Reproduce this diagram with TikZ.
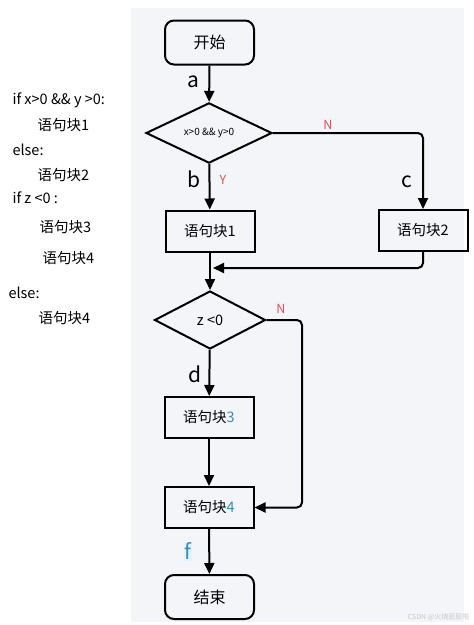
\documentclass[tikz,border=0pt]{standalone}
\usepackage{fontspec}
\setmainfont{Noto Sans CJK SC}
\usetikzlibrary{arrows.meta,shapes.geometric}
\definecolor{panel}{HTML}{F4F5F9}
\definecolor{ynred}{HTML}{E0505A}
\definecolor{hl}{HTML}{3A8DB5}

\begin{document}
\begin{tikzpicture}[x=1pt,y=-1pt,
    box/.style={draw,line width=2pt,minimum width=89pt,minimum height=41pt,inner sep=0pt,font=\fontsize{14.5}{14.5}\selectfont},
    term/.style={box,rounded corners=9pt,minimum height=44pt,font=\fontsize{16}{16}\selectfont},
    cond/.style={draw,diamond,line width=2pt,inner sep=0pt},
    flow/.style={line width=2pt,-{Triangle[length=11pt,width=10pt]}},
    lab/.style={font=\fontsize{21}{21}\selectfont},
    yn/.style={text=ynred,font=\fontsize{12.5}{12.5}\selectfont},
    code/.style={anchor=west,font=\fontsize{14.5}{14.5}\selectfont}]
    \useasboundingbox (0,0) rectangle (474,625);
    \fill[white] (0,0) rectangle (474,625);
    \fill[panel] (131,8) rectangle (464,622);

    % code on the left
    \node[code] (l1) at (9,100) {if x>0 \&\& y >0:};
    \node[code] (l2) at (34,125) {语句块1};
    \node[code] (l3) at (9,150) {else:};
    \node[code] (l4) at (34,175) {语句块2};
    \node[code] (l5) at (9,198) {if z <0 :};
    \node[code] (l6) at (36,227) {语句块3};
    \node[code] (l7) at (39,258) {语句块4};
    \node[code] (l8) at (5,293) {else:};
    \node[code] (l9) at (35,318) {语句块4};

    % flow chart
    \node[term] (start) at (209.5,42.5) {开始};
    \node[cond,minimum width=126pt,minimum height=58pt] (c1) at (209,133) {\fontsize{10}{10}\selectfont x>0 \&\& y>0};
    \node[box] (b1) at (210,231) {语句块1};
    \node[box] (b2) at (423,230.5) {语句块2};
    \node[cond,minimum width=111pt,minimum height=58pt,font=\fontsize{14.5}{14.5}\selectfont] (c2) at (210,320) {z <0};
    \node[box] (b3) at (209,417.5) {语句块\textcolor{hl}{3}};
    \node[box] (b4) at (209,507.5) {语句块\textcolor{hl}{4}};
    \node[term] (end) at (209.5,597) {结束};

    \coordinate (join) at (213,268);
    \coordinate (bend) at (302,320);

    \draw[flow] (start) -- (c1);
    \draw[flow] (c1) -- (b1);
    \draw[flow,rounded corners=5pt] (c1.east) -| (b2.north);
    \draw[flow,rounded corners=5pt] (b2.south) |- (join);
    \draw[flow] (b1) -- (c2);
    \draw[flow] (c2) -- (b3);
    \draw[flow] (b3) -- (b4);
    \draw[flow,rounded corners=5pt] (c2.east) -- (bend) |- (b4.east);
    \draw[flow] (b4) -- (end);

    % labels
    \node[lab] (la) at (193,82) {a};
    \node[lab] (lb) at (194,179) {b};
    \node[yn] (ly) at (223,180) {Y};
    \node[yn] (ln1) at (328,125) {N};
    \node[lab] (lc) at (407,182) {c};
    \node[yn] (ln2) at (281,309) {N};
    \node[lab] (ld) at (195,374) {d};
    \node[lab,text=hl,fill=cyan!12,inner sep=1pt] (lf) at (188,551) {f};

    \node[anchor=east,text=black!22,font=\fontsize{7}{7}\selectfont] (mark1) at (473,617) {CSDN @火烧屁屁啦};
\end{tikzpicture}
\end{document}
